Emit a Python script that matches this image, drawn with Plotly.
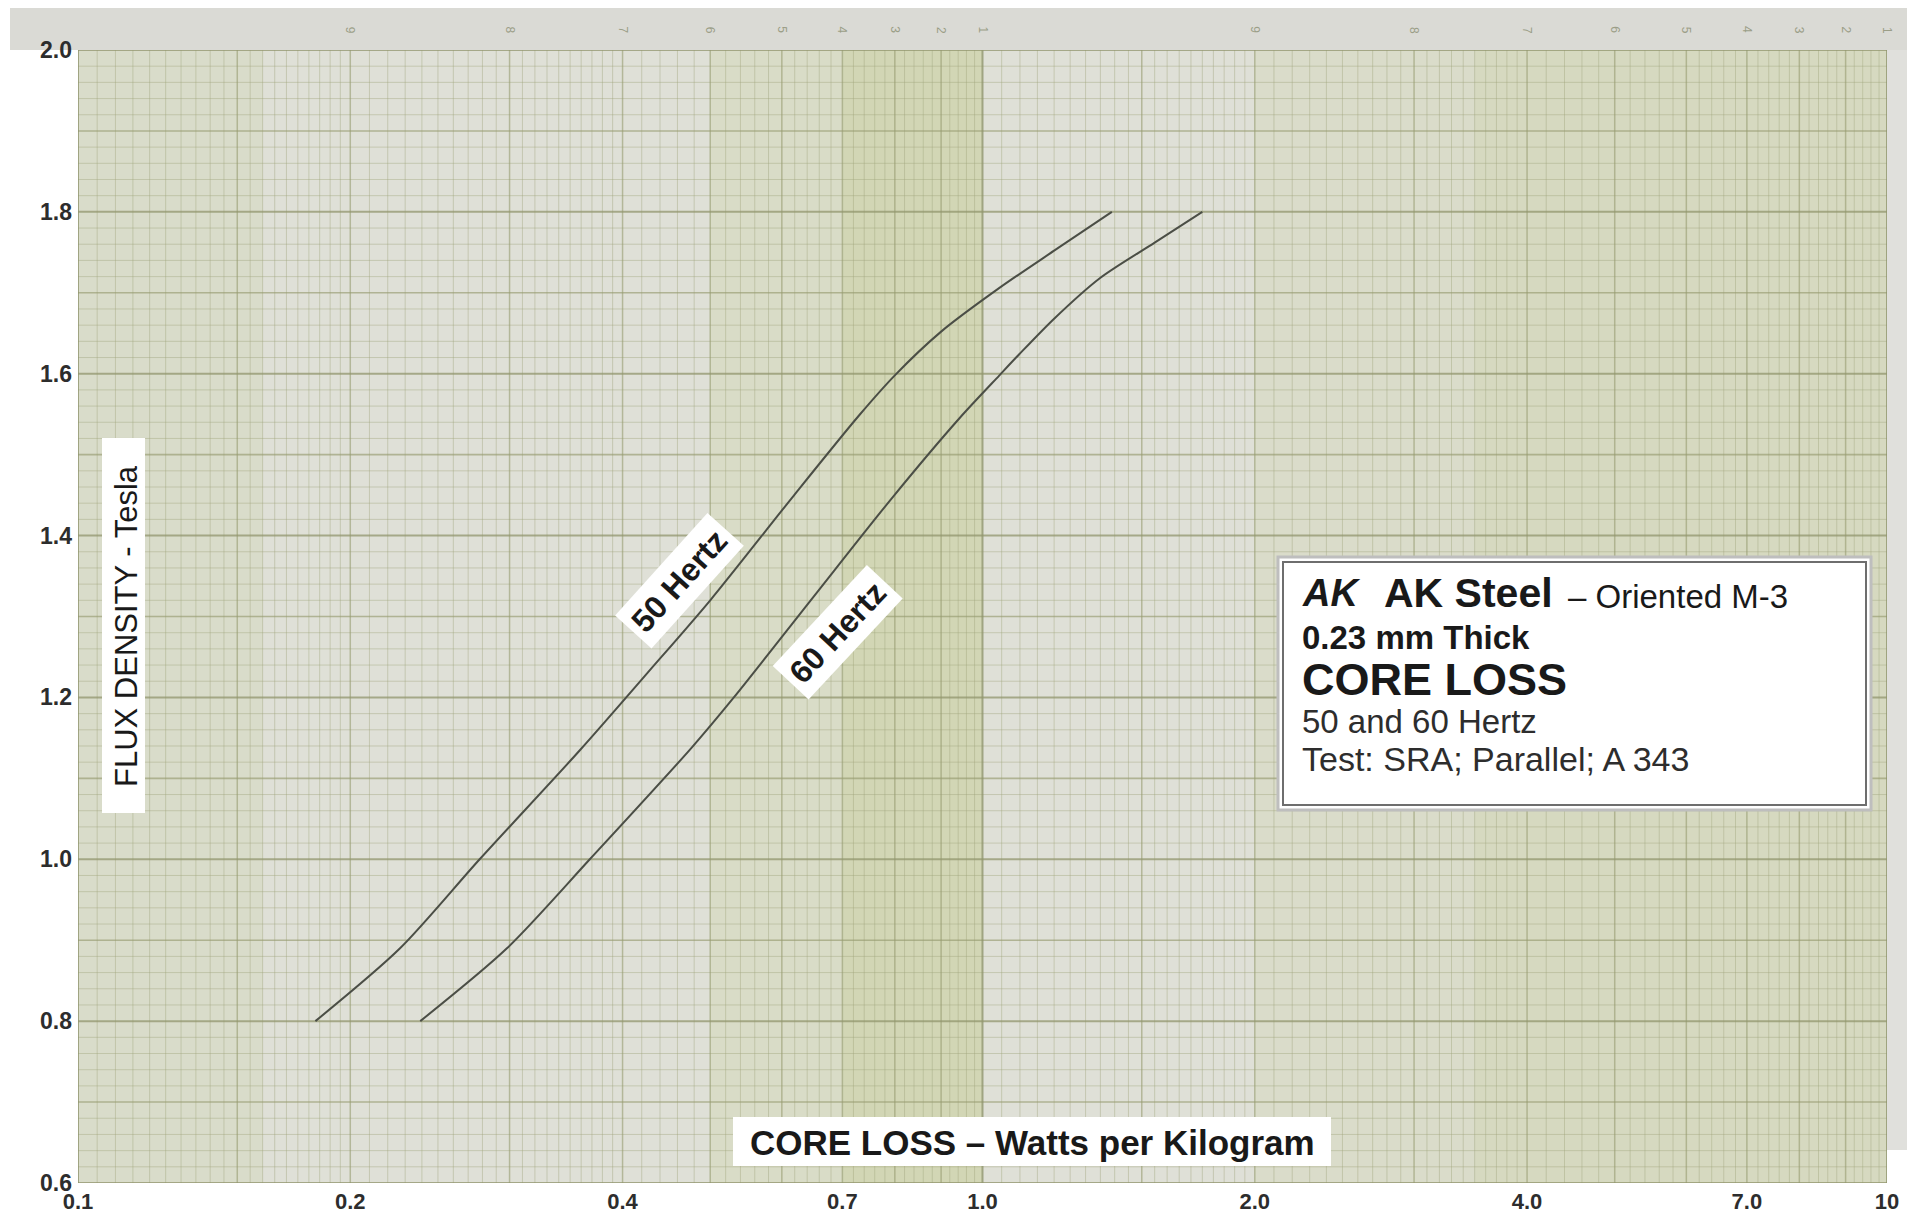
import math
import plotly.graph_objects as go

# values (core loss W/kg vs flux density T)
loss_50 = [0.183, 0.227, 0.278, 0.359, 0.426, 0.50, 0.616, 0.731, 0.80, 0.90, 1.044, 1.20, 1.39]
flux_50 = [0.80, 0.89, 1.00, 1.135, 1.23, 1.32, 1.447, 1.549, 1.598, 1.652, 1.706, 1.752, 1.80]

loss_60 = [0.239, 0.298, 0.368, 0.477, 0.531, 0.65, 0.795, 0.943, 1.044, 1.098, 1.20, 1.348, 1.55, 1.75]
flux_60 = [0.80, 0.89, 1.00, 1.138, 1.20, 1.324, 1.447, 1.545, 1.598, 1.624, 1.668, 1.718, 1.762, 1.80]

x_ticks = [0.1, 0.2, 0.4, 0.7, 1.0, 2.0, 4.0, 7.0, 10]
x_labels = ['0.1', '0.2', '0.4', '0.7', '1.0', '2.0', '4.0', '7.0', '10']
y_ticks = [0.6, 0.8, 1.0, 1.2, 1.4, 1.6, 1.8, 2.0]
y_labels = ['0.6', '0.8', '1.0', '1.2', '1.4', '1.6', '1.8', '2.0']

# faint printed numbers along the top edge of the graph paper
paper_marks = [0.2, 0.3, 0.4, 0.5, 0.6, 0.7, 0.8, 0.9, 1.0, 2, 3, 4, 5, 6, 7, 8, 9, 10]
paper_digits = ['9', '8', '7', '6', '5', '4', '3', '2', '1', '9', '8', '7', '6', '5', '4', '3', '2', '1']

# page body has an 8px margin, so the figure is sized to sit inside the window
OFF = 8
W, H = 1915 - OFF, 1214 - OFF
PL, PR, PT, PB = 78, 1887, 50, 1183     # plot area in window pixels
L, R, T, B = PL - OFF, W - (PR - OFF), PT - OFF, H - (PB - OFF)


def px(x):
    return (x - PL) / (PR - PL)


def py(y):
    return (PB - y) / (PB - PT)


def lx(v):
    # paper position of a value on the log axis
    return (math.log10(v) + 1) / 2


# graph paper rulings
def decade_lines(d):
    minor, medium = [], []
    v = 1.0
    while v < 9.999:
        if v < 2 - 1e-9:
            step = 0.05
        elif v < 4 - 1e-9:
            step = 0.1
        else:
            step = 0.2
        v = round(v + step, 3)
        if abs(v - round(v)) < 1e-6 or abs(v - 1.5) < 1e-6:
            if v < 10:
                medium.append(v * d)
        else:
            minor.append(v * d)
    return minor, medium


vx_minor, vx_medium = [], []
for d in [0.1, 1.0]:
    a, b = decade_lines(d)
    vx_minor += a
    vx_medium += b
vx_major = [0.1, 1.0, 10]

hy_minor, hy_medium, hy_major = [], [], []
for i in range(71):
    yv = round(0.6 + i * 0.02, 3)
    if i % 10 == 0:
        hy_major.append(yv)
    elif i % 5 == 0:
        hy_medium.append(yv)
    else:
        hy_minor.append(yv)


def vlines(xs):
    xx, yy = [], []
    for x in xs:
        xx += [x, x, None]
        yy += [0.6, 2.0, None]
    return xx, yy


def hlines(ys):
    xx, yy = [], []
    for y in ys:
        xx += [0.1, 10, None]
        yy += [y, y, None]
    return xx, yy


fig = go.Figure()

grid_styles = [
    (vlines(vx_minor), 'rgba(160,165,125,0.42)', 1),
    (hlines(hy_minor), 'rgba(160,165,125,0.42)', 1),
    (vlines(vx_medium), 'rgba(150,155,112,0.6)', 1.5),
    (hlines(hy_medium), 'rgba(150,155,112,0.65)', 1.6),
    (vlines(vx_major), 'rgba(140,145,105,0.75)', 2),
    (hlines(hy_major), 'rgba(145,150,110,0.75)', 2),
]
for (gx, gy), col, w in grid_styles:
    fig.add_trace(go.Scatter(x=gx, y=gy, mode='lines', line=dict(color=col, width=w),
                             hoverinfo='skip', showlegend=False))

fig.add_trace(go.Scatter(x=loss_50, y=flux_50, mode='lines', name='50 Hertz',
                         line=dict(color='rgb(75,78,70)', width=2, shape='spline', smoothing=0.8),
                         showlegend=False))
fig.add_trace(go.Scatter(x=loss_60, y=flux_60, mode='lines', name='60 Hertz',
                         line=dict(color='rgb(75,78,70)', width=2, shape='spline', smoothing=0.8),
                         showlegend=False))

shapes = []
# tinted bands of the scanned paper
bands = [
    (0.1, 0.16, 'rgb(217,220,202)'),
    (0.5, 0.7, 'rgb(217,220,199)'),
    (0.7, 1.0, 'rgb(210,214,181)'),
    (2.0, 3.5, 'rgb(218,220,202)'),
    (3.5, 10, 'rgb(214,217,192)'),
]
for a, b, col in bands:
    shapes.append(dict(type='rect', xref='paper', yref='paper', x0=lx(a), x1=lx(b), y0=0, y1=1,
                       fillcolor=col, line=dict(width=0), layer='below'))
# grey scanner edge at top and right
shapes.append(dict(type='rect', xref='paper', yref='paper', x0=px(10), x1=px(1910), y0=1, y1=py(6),
                   fillcolor='rgb(218,218,213)', line=dict(width=0), layer='below'))
shapes.append(dict(type='rect', xref='paper', yref='paper', x0=1, x1=px(1910), y0=py(1150), y1=1,
                   fillcolor='rgb(224,224,220)', line=dict(width=0), layer='below'))
# white label boxes
shapes.append(dict(type='rect', xref='paper', yref='paper', x0=px(102), x1=px(145), y0=py(813), y1=py(438),
                   fillcolor='white', line=dict(width=0)))
shapes.append(dict(type='rect', xref='paper', yref='paper', x0=px(733), x1=px(1331), y0=py(1166), y1=py(1117),
                   fillcolor='white', line=dict(width=0)))
shapes.append(dict(type='rect', xref='paper', yref='paper', x0=px(1278), x1=px(1871), y0=py(810), y1=py(557),
                   fillcolor='white', line=dict(color='rgb(190,190,190)', width=3)))
shapes.append(dict(type='rect', xref='paper', yref='paper', x0=px(1283), x1=px(1866), y0=py(805), y1=py(562),
                   fillcolor='white', line=dict(color='rgb(110,110,110)', width=2)))

ann = []
font = 'Liberation Sans, Arial, Helvetica, sans-serif'
ink = 'rgb(25,25,25)'


def note(text, x, y, size, xanchor='center', color=ink, **kw):
    ann.append(dict(text=text, xref='paper', yref='paper', x=x, y=y, xanchor=xanchor,
                    yanchor='middle', showarrow=False,
                    font=dict(family=font, size=size, color=color), **kw))


note('FLUX DENSITY - Tesla', px(126), py(626), 31, textangle=-90)
note('<b>CORE LOSS – Watts per Kilogram</b>', px(1032), py(1142), 35)

ann.append(dict(text='<b>50 Hertz</b>', xref='x', yref='y', x=math.log10(0.462), y=1.344,
                xanchor='center', yanchor='middle',
                textangle=-48, showarrow=False, bgcolor='white', borderpad=6,
                font=dict(family=font, size=32, color=ink)))
ann.append(dict(text='<b>60 Hertz</b>', xref='x', yref='y', x=math.log10(0.692), y=1.281,
                xanchor='center', yanchor='middle',
                textangle=-47, showarrow=False, bgcolor='white', borderpad=6,
                font=dict(family=font, size=32, color=ink)))

# info box text
note('<b><i>AK</i></b>', px(1300), py(593), 38, xanchor='left')
note('<b>AK Steel</b>', px(1382), py(593), 41, xanchor='left')
note('– Oriented M-3', px(1566), py(596), 33, xanchor='left')
note('<b>0.23 mm Thick</b>', px(1300), py(637), 33, xanchor='left')
note('<b>CORE LOSS</b>', px(1300), py(679), 45, xanchor='left')
note('50 and 60 Hertz', px(1300), py(721), 33, xanchor='left', color='rgb(45,45,45)')
note('Test: SRA; Parallel; A 343', px(1300), py(759), 34, xanchor='left', color='rgb(45,45,45)')

for v, d in zip(paper_marks, paper_digits):
    note(d, lx(v), py(30), 12, color='rgb(155,158,135)', textangle=90)

fig.update_layout(
    width=W, height=H,
    margin=dict(l=L, r=R, t=T, b=B),
    paper_bgcolor='white',
    plot_bgcolor='rgb(223,224,215)',
    shapes=shapes,
    annotations=ann,
    showlegend=False,
    xaxis=dict(type='log', range=[-1, 1], tickvals=x_ticks, ticktext=x_labels,
               showgrid=False, zeroline=False, ticks='', ticklabelstandoff=3, automargin=False,
               tickfont=dict(family=font, size=22, color='rgb(45,45,45)', weight='bold')),
    yaxis=dict(range=[0.6, 2.0], tickvals=y_ticks, ticktext=y_labels,
               showgrid=False, zeroline=False, ticks='', ticklabelstandoff=5, automargin=False,
               tickfont=dict(family=font, size=23, color='rgb(45,45,45)', weight='bold')),
)

fig.write_html('out.html')
